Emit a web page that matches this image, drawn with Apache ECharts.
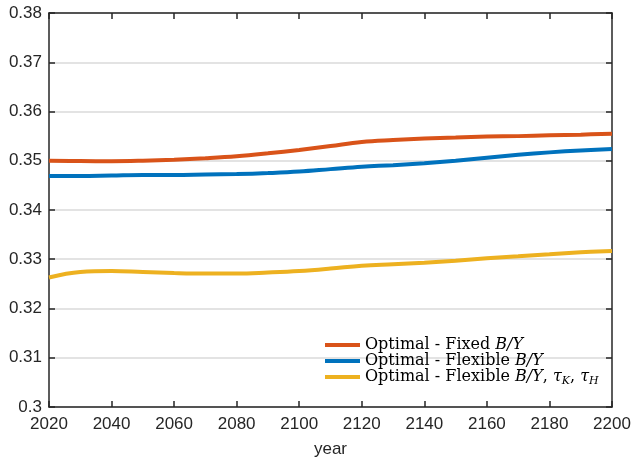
<!DOCTYPE html>
<html>
<head>
<meta charset="utf-8">
<script src="https://cdn.jsdelivr.net/npm/echarts@6/dist/echarts.min.js"></script>
<style>
  html, body { margin: 0; padding: 0; background: #fff; }
  #chart { width: 631px; height: 465px; }
</style>
</head>
<body>
<div id="chart"></div>
<script>
// years on the x axis
const years = [2020, 2030, 2040, 2050, 2060, 2070, 2080, 2090, 2100, 2110,
  2120, 2130, 2140, 2150, 2160, 2170, 2180, 2190, 2200];
// Optimal - Fixed B/Y
const fixedBY = [0.3500, 0.34995, 0.3499, 0.3500, 0.3502, 0.3505, 0.3509, 0.3515, 0.3522, 0.3530,
  0.3538, 0.3542, 0.3545, 0.3547, 0.3549, 0.3550, 0.3552, 0.3553, 0.3555];
// Optimal - Flexible B/Y
const flexBY = [0.3469, 0.3469, 0.3470, 0.3471, 0.3471, 0.3472, 0.3473, 0.3475, 0.3478, 0.3483,
  0.3488, 0.3491, 0.3495, 0.3500, 0.3506, 0.3512, 0.3517, 0.3521, 0.3524];
// Optimal - Flexible B/Y, tau_K, tau_H
const flexTax = [0.3263, 0.3274, 0.3276, 0.3274, 0.3272, 0.3271, 0.3271, 0.3273, 0.3276, 0.3281,
  0.3287, 0.3290, 0.3293, 0.3297, 0.3302, 0.3306, 0.3310, 0.3314, 0.3317];

const seriesNames = ['fixed', 'flex', 'flexTax'];
const legendLabels = {
  fixed: '{t|Optimal - Fixed }{i|B/Y}',
  flex: '{t|Optimal - Flexible }{i|B/Y}',
  flexTax: '{t|Optimal - Flexible }{i|B/Y}{t|, }{i|τ}{s|K}{t|, }{i|τ}{s|H}',
};
const colors = ['#D95319', '#0072BD', '#EDB120'];

const toPairs = (vals) => years.map((y, i) => [y, vals[i]]);

const axisColor = '#262626';
const chart = echarts.init(document.getElementById('chart'));

const option = {
  animation: false,
  color: colors,
  grid: { left: 49, right: 19, top: 13, bottom: 58, containLabel: false, outerBoundsMode: 'none' },
  legend: {
    data: seriesNames,
    orient: 'vertical',
    left: 320,
    top: 332,
    icon: 'rect',
    itemWidth: 35,
    itemHeight: 4,
    itemGap: 0,
    formatter: (name) => legendLabels[name],
    textStyle: {
      rich: {
        t: { fontFamily: 'DejaVu Serif', fontSize: 16, color: '#000', lineHeight: 20 },
        i: { fontFamily: 'DejaVu Serif', fontStyle: 'italic', fontSize: 16, color: '#000', lineHeight: 20 },
        s: { fontFamily: 'DejaVu Serif', fontStyle: 'italic', fontSize: 11, color: '#000', lineHeight: 13, verticalAlign: 'bottom' },
      },
    },
  },
  xAxis: [
    {
      type: 'value',
      min: 2020,
      max: 2200,
      interval: 20,
      name: 'year',
      nameLocation: 'middle',
      nameGap: 34,
      nameTextStyle: { fontFamily: 'Liberation Sans', fontSize: 17, color: axisColor },
      axisLine: { lineStyle: { color: axisColor, width: 1.5 } },
      axisTick: { inside: true, length: 6, lineStyle: { color: axisColor, width: 1.5 } },
      axisLabel: { fontFamily: 'Liberation Sans', fontSize: 17, color: axisColor, margin: 9, formatter: (v) => String(v) },
      splitLine: { show: false },
    },
    {
      type: 'value',
      position: 'top',
      min: 2020,
      max: 2200,
      interval: 20,
      axisLine: { show: true, lineStyle: { color: axisColor, width: 1.5 } },
      axisTick: { inside: true, length: 6, lineStyle: { color: axisColor, width: 1.5 } },
      axisLabel: { show: false },
      splitLine: { show: false },
    },
  ],
  yAxis: [
    {
      type: 'value',
      min: 0.3,
      max: 0.38,
      interval: 0.01,
      axisLine: { show: true, lineStyle: { color: axisColor, width: 1.5 } },
      axisTick: { show: true, inside: true, length: 6, lineStyle: { color: axisColor, width: 1.5 } },
      axisLabel: { fontFamily: 'Liberation Sans', fontSize: 17, color: axisColor, margin: 7 },
      splitLine: { show: true, lineStyle: { color: '#e3e3e3', width: 2 } },
    },
    {
      type: 'value',
      position: 'right',
      min: 0.3,
      max: 0.38,
      interval: 0.01,
      axisLine: { show: true, lineStyle: { color: axisColor, width: 1.5 } },
      axisTick: { show: true, inside: true, length: 6, lineStyle: { color: axisColor, width: 1.5 } },
      axisLabel: { show: false },
      splitLine: { show: false },
    },
  ],
  series: [
    { name: 'fixed', type: 'line', data: toPairs(fixedBY), smooth: 0.4, showSymbol: false, lineStyle: { width: 4 } },
    { name: 'flex', type: 'line', data: toPairs(flexBY), smooth: 0.4, showSymbol: false, lineStyle: { width: 4 } },
    { name: 'flexTax', type: 'line', data: toPairs(flexTax), smooth: 0.4, showSymbol: false, lineStyle: { width: 4 } },
  ],
};

chart.setOption(option);
</script>
</body>
</html>
